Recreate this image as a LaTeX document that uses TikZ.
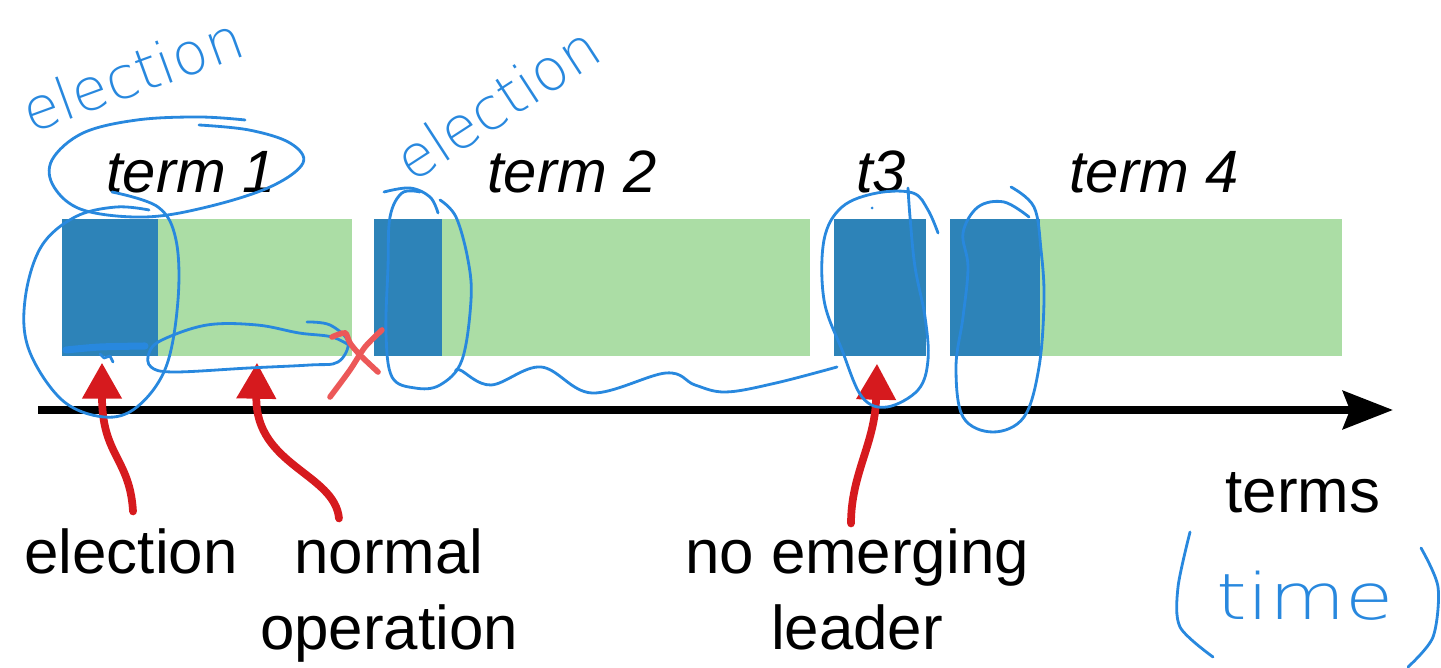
\documentclass[tikz,border=0pt]{standalone}
\usepackage{fontspec}
\setmainfont{Liberation Sans}
\newfontfamily\inkfont{DejaVu Sans ExtraLight}
\usetikzlibrary{arrows.meta}
\definecolor{elecblue}{RGB}{45,131,184}
\definecolor{opgreen}{RGB}{171,221,165}
\definecolor{arrred}{RGB}{214,26,30}
\definecolor{inkblue}{RGB}{40,136,222}
\definecolor{inkred}{RGB}{236,88,88}

\begin{document}
\begin{tikzpicture}[
every node/.style={inner sep=0pt},
bar/.style={minimum height=1.37cm},
lbl/.style={font=\fontsize{17.6}{20}\selectfont, anchor=base},
termlbl/.style={font=\fontsize{17}{20}\selectfont\itshape, anchor=base},
redarr/.style={draw=arrred, line width=2.2pt, line cap=round, -{Triangle[length=3.6mm,width=3.8mm]}},
ink/.style={draw=inkblue, line width=0.8pt, line cap=round, line join=round},
redink/.style={draw=inkred, line width=1.6pt, line cap=round},
scrawl/.style={text=inkblue, font=\inkfont\fontsize{16.5}{17}\selectfont}
]
\useasboundingbox (0,0) rectangle (14.41,-6.68);

% name/centre/width/colour
\foreach \n/\x/\w/\c in {e1/1.10/0.96/elecblue, n1/2.55/1.94/opgreen,
                         e2/4.08/0.68/elecblue, n2/6.26/3.68/opgreen,
                         e3/8.80/0.92/elecblue,
                         e4/9.95/0.90/elecblue, n4/11.91/3.02/opgreen}
    \node[bar, fill=\c, minimum width=\w cm] (\n) at (\x,-2.875) {};

\node[termlbl] (t1) at (1.91,-1.93) {term 1};
\node[termlbl] (t2) at (5.72,-1.93) {term 2};
\node[termlbl] (t3) at (8.81,-1.93) {t3};
\node[termlbl] (t4) at (11.54,-1.93) {term 4};

\coordinate (tl0) at (0.38,-4.10);
\coordinate (tl1) at (13.93,-4.10);
\draw[line width=2.3pt, -{Stealth[length=5mm,width=3.8mm,inset=0.7mm]}] (tl0) -- (tl1);

\node[lbl] (lelec) at (1.31,-5.74) {election};
\node[lbl] (lnorm) at (3.89,-5.74) {normal};
\node[lbl] (loper) at (3.89,-6.50) {operation};
\node[lbl] (lnoem) at (8.57,-5.74) {no emerging};
\node[lbl] (llead) at (8.57,-6.50) {leader};
\node[lbl] (lterm) at (13.03,-5.13) {terms};

\draw[redarr] ([xshift=0.02cm,yshift=0.17cm]lelec.north) .. controls +(-0.03,0.53) and +(0,-0.93) .. ([xshift=-0.08cm,yshift=-0.06cm]e1.south);
\draw[redarr] ([xshift=-0.50cm,yshift=0.10cm]lnorm.north) .. controls +(-0.04,0.45) and +(-0.02,-1.03) .. ([xshift=0.02cm,yshift=-0.06cm]n1.south);
\draw[redarr] ([xshift=-0.06cm,yshift=0.05cm]lnoem.north) .. controls +(0,0.5) and +(-0.02,-0.8) .. ([xshift=-0.03cm,yshift=-0.07cm]e3.south);

% scribbles on top
\node[scrawl, rotate=20] (hw1) at (1.32,-0.74) {election};
\node[scrawl, rotate=33] (hw2) at (4.97,-1.03) {election};
\node[scrawl, anchor=base, xscale=1.35, yscale=1.1] (hw3) at (13.05,-6.20) {time};

\draw[ink] plot[smooth, tension=0.6] coordinates {(2.45,-1.20) (1.99,-1.17) (1.37,-1.20) (0.83,-1.33) (0.52,-1.60) (0.54,-1.87) (0.83,-2.10) (1.45,-2.17) (2.07,-2.07) (2.70,-1.87) (3.03,-1.63) (2.90,-1.43) (2.49,-1.30) (1.99,-1.25)};
\draw[ink] plot[smooth, tension=0.6] coordinates {(1.12,-1.92) (1.58,-2.07) (1.76,-2.40) (1.78,-3.00) (1.66,-3.67) (1.37,-4.07) (1.04,-4.17) (0.62,-4.00) (0.29,-3.50) (0.25,-3.00) (0.41,-2.47) (0.75,-2.17) (1.16,-2.07) (1.49,-2.10)};
\draw[ink, line width=2pt] plot[smooth] coordinates {(0.66,-3.50) (1.00,-3.47) (1.45,-3.46)};
\draw[ink] (1.00,-3.54) -- (1.04,-3.58) -- (1.10,-3.56) -- (1.13,-3.62);
\draw[ink] plot[smooth, tension=0.6] coordinates {(3.07,-3.22) (3.30,-3.25) (3.48,-3.42) (3.38,-3.62) (3.10,-3.65) (2.49,-3.68) (1.74,-3.72) (1.51,-3.67) (1.49,-3.53) (1.62,-3.40) (2.07,-3.25) (2.57,-3.25) (2.99,-3.33) (3.32,-3.37) (3.52,-3.47)};
\draw[redink] plot[smooth] coordinates {(3.30,-3.97) (3.50,-3.70) (3.65,-3.47) (3.82,-3.30)};
\draw[redink] plot[smooth] coordinates {(3.32,-3.37) (3.45,-3.33) (3.50,-3.43) (3.60,-3.55) (3.78,-3.72)};
\draw[ink] plot[smooth, tension=0.6] coordinates {(3.84,-1.92) (4.10,-1.88) (4.30,-1.97) (4.38,-2.13)};
\draw[ink] plot[smooth, tension=0.6] coordinates {(4.40,-2.00) (4.56,-2.17) (4.68,-2.60) (4.71,-3.00) (4.62,-3.60) (4.40,-3.85) (4.15,-3.88) (3.92,-3.77) (3.86,-3.33) (3.88,-2.67) (3.90,-2.17) (4.02,-1.93) (4.20,-1.92)};
\draw[ink] plot[smooth, tension=0.6] coordinates {(4.56,-3.72) (4.60,-3.70) (4.91,-3.85) (5.41,-3.67) (5.92,-3.93) (6.66,-3.73) (6.95,-3.85) (7.26,-3.92) (7.76,-3.83) (8.37,-3.67)};
\draw[ink] plot[smooth, tension=0.6] coordinates {(9.08,-1.88) (9.10,-2.17) (9.15,-2.67) (9.25,-3.17) (9.28,-3.60) (9.18,-3.90) (8.87,-4.07) (8.62,-3.97) (8.42,-3.50) (8.24,-3.00) (8.24,-2.40) (8.42,-2.07) (8.77,-1.93) (9.13,-1.93) (9.28,-2.10) (9.38,-2.33)};
\fill[inkblue] (8.72,-2.08) circle (0.015);
\draw[ink] plot[smooth, tension=0.6] coordinates {(10.11,-1.87) (10.34,-2.07) (10.41,-2.50) (10.44,-3.00) (10.39,-3.67) (10.24,-4.17) (9.93,-4.32) (9.63,-4.17) (9.56,-3.67) (9.63,-3.17) (9.68,-2.67) (9.63,-2.33) (9.78,-2.07) (10.04,-2.02) (10.29,-2.17)};
\draw[ink] plot[smooth] coordinates {(11.90,-5.32) (11.78,-5.87) (11.80,-6.27) (12.13,-6.57)};
\draw[ink] plot[smooth] coordinates {(14.21,-5.48) (14.38,-5.87) (14.33,-6.37) (14.08,-6.67)};

\end{tikzpicture}
\end{document}
